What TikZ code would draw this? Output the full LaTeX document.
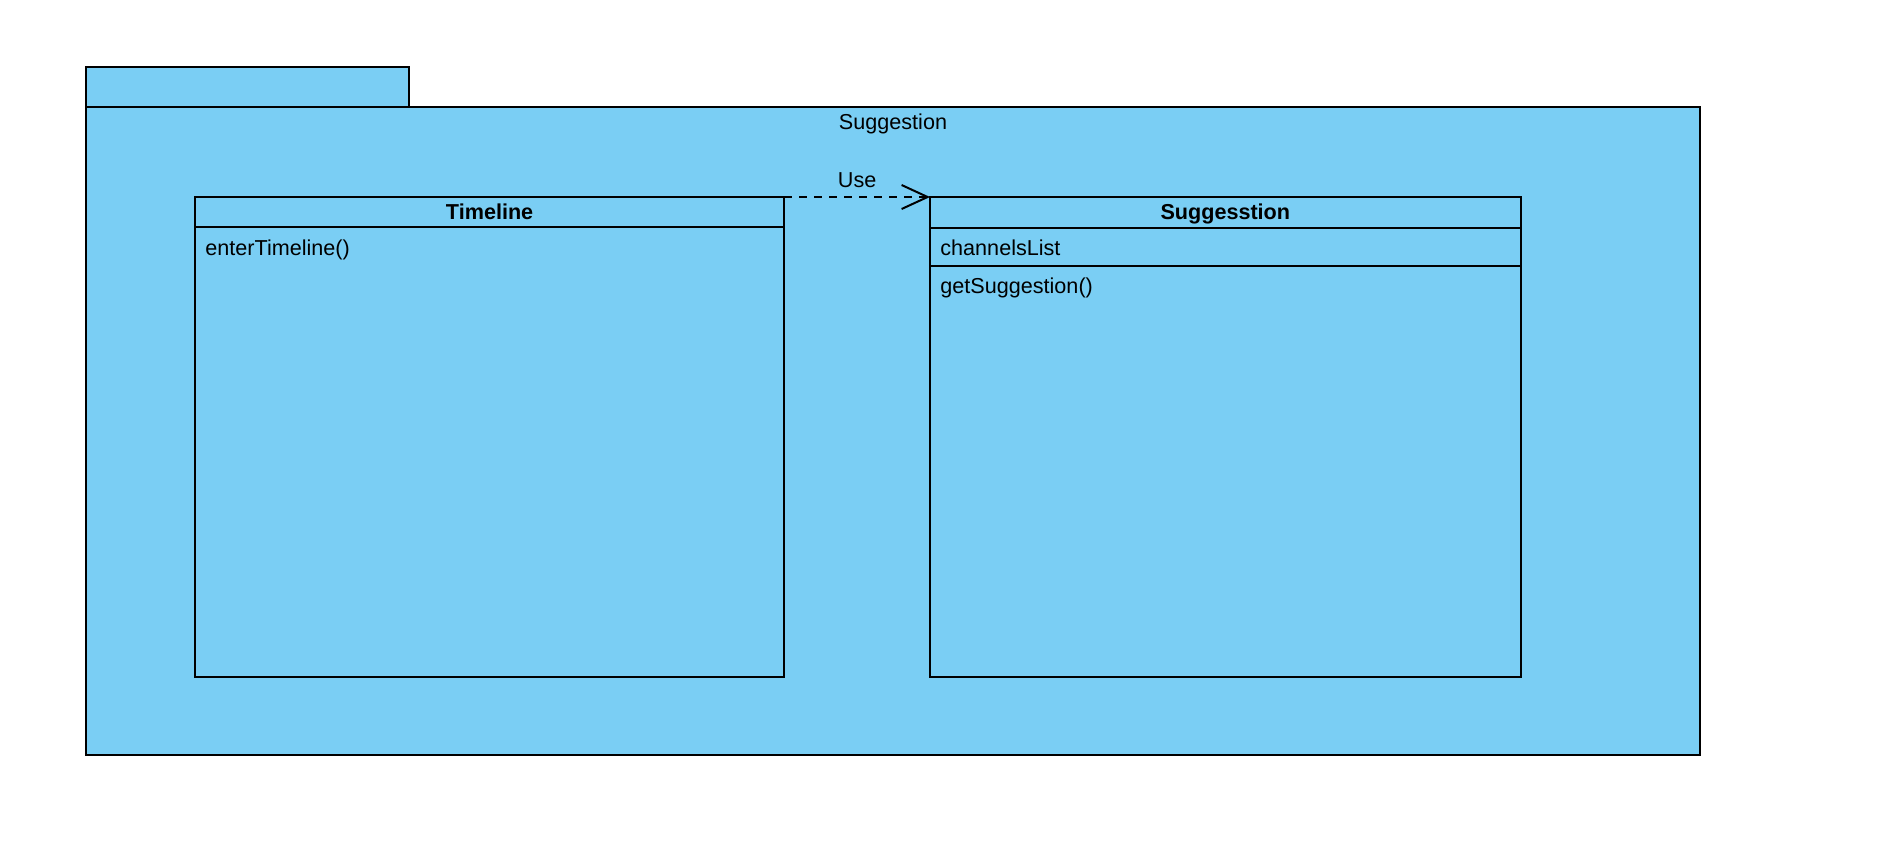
\documentclass[tikz,border=0pt]{standalone}
\usepackage{fontspec}
\setmainfont{Liberation Sans}
\usepackage{tikz}
\usetikzlibrary{positioning,arrows.meta}
\definecolor{pkgblue}{RGB}{122,206,244}

\tikzset{
  umlbox/.style={draw, fill=pkgblue, line width=1pt, inner sep=0pt, outer sep=0pt},
  classhead/.style={umlbox, anchor=north west, text height=0.95em, text depth=0.23em},
  member/.style={anchor=base west, inner sep=0pt},
  usedep/.style={line width=1pt, dash pattern=on 4pt off 3.5pt,
    -{Straight Barb[length=13pt,width=12pt,line width=1pt]}}
}

\begin{document}
\begin{tikzpicture}[x=0.5pt,y=-0.5pt,font=\fontsize{10.8}{13}\selectfont]
\useasboundingbox (0,0) rectangle (1878,858);
% package frame
\node (tab) [umlbox, anchor=north west, minimum width=161.5pt, minimum height=20pt] at (86,67) {};
\node (pkg) [umlbox, anchor=north west, minimum width=807pt, minimum height=324pt] at (86,107) {};
\node (pkgname) [anchor=base, inner sep=0pt] at (893,129) {Suggestion};

% class Timeline
\node (tlhead) [classhead, minimum width=294.6pt, minimum height=15.2pt] at (195,197) {\textbf{Timeline}};
\node (tlops) [umlbox, below=0pt of tlhead, minimum width=294.6pt, minimum height=224.8pt] {};
\node (tlop) [member] at ([shift={(10,28)}]tlops.north west) {enterTimeline()};

% class Suggesstion
\node (sghead) [classhead, minimum width=295.3pt, minimum height=15.5pt] at (930,197) {\textbf{Suggesstion}};
\node (sgattr) [umlbox, below=0pt of sghead, minimum width=295.3pt, minimum height=19pt] {};
\node (sgops) [umlbox, below=0pt of sgattr, minimum width=295.3pt, minimum height=205.5pt] {};
\node (sgat) [member] at ([shift={(10,27)}]sgattr.north west) {channelsList};
\node (sgop) [member] at ([shift={(10,27)}]sgops.north west) {getSuggestion()};

% dependency
\draw[usedep] (tlhead.north east) -- node[above=4pt, inner sep=0pt] (uselbl) {Use} (sghead.north west);
\end{tikzpicture}
\end{document}
